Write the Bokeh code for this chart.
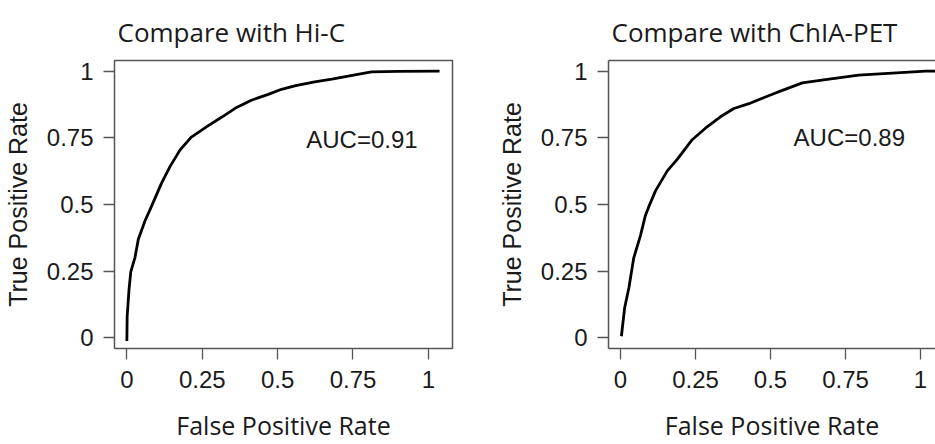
from bokeh.plotting import figure
from bokeh.layouts import row
from bokeh.models import Range1d, FixedTicker, LinearAxis
from bokeh.core.properties import value
from bokeh.embed import file_html
from bokeh.resources import INLINE

# ---- data ----
hic_fpr = [0.0, 0.001, 0.007, 0.013, 0.027, 0.038, 0.060, 0.082, 0.115, 0.143, 0.176,
           0.214, 0.270, 0.314, 0.364, 0.413, 0.469, 0.513, 0.560, 0.623, 0.680,
           0.734, 0.811, 0.900, 1.037]
hic_tpr = [-0.012, 0.08, 0.179, 0.247, 0.302, 0.37, 0.438, 0.494, 0.58, 0.642, 0.704,
           0.753, 0.796, 0.827, 0.864, 0.891, 0.913, 0.932, 0.946, 0.960, 0.970,
           0.981, 0.997, 0.999, 1.0]

chia_fpr = [0.003, 0.014, 0.028, 0.044, 0.067, 0.083, 0.094, 0.117, 0.156, 0.189,
            0.239, 0.283, 0.333, 0.378, 0.428, 0.483, 0.517, 0.533, 0.606, 0.683,
            0.794, 0.906, 1.017, 1.05]
chia_tpr = [0.006, 0.114, 0.188, 0.299, 0.385, 0.459, 0.491, 0.552, 0.626, 0.669,
            0.743, 0.786, 0.829, 0.86, 0.878, 0.903, 0.918, 0.925, 0.956, 0.968,
            0.985, 0.993, 1.0, 1.0]

tick_values = [0, 0.25, 0.5, 0.75, 1]
tick_labels = ["0", "0.25", "0.5", "0.75", "1"]

titles = ["Compare with Hi-C", "Compare with ChIA-PET"]
auc_labels = ["AUC=0.91", "AUC=0.89"]
auc_pos = [(0.595, 0.745), (0.577, 0.753)]

TXT = "#1a1a1a"
GRAY = "#555555"


def make_panel(title, fx, ty, auc, apos, width, xr, yr, mbl, mbr, open_right):
    p = figure(width=width, height=444, output_backend="svg", toolbar_location=None,
               x_range=Range1d(*xr), y_range=Range1d(*yr),
               min_border_left=mbl, min_border_right=mbr,
               min_border_top=59, min_border_bottom=94)
    p.title.text = title
    p.title.text_font = "Open Sans"
    p.title.text_font_size = "26px"
    p.title.text_font_style = "normal"
    p.title.text_color = TXT
    p.title.align = "left"
    p.title.offset = 3
    p.title.standoff = 22
    p.grid.visible = False
    p.background_fill_color = "white"
    p.border_fill_color = "white"

    xax = p.xaxis[0]
    yax = p.yaxis[0]
    for ax in (xax, yax):
        ax.ticker = FixedTicker(ticks=tick_values)
        ax.major_label_overrides = {v: l for v, l in zip(tick_values, tick_labels)}
        ax.minor_tick_line_color = None
        ax.major_tick_in = 0
        ax.major_tick_out = 11
        ax.major_tick_line_color = GRAY
        ax.major_tick_line_width = 1.3
        ax.major_label_text_font = "Liberation Sans"
        ax.major_label_text_font_size = "24px"
        ax.major_label_text_color = TXT
        ax.axis_label_text_font_style = "normal"
        ax.axis_label_text_color = TXT

    if open_right:
        # the reference panel is cut at the right edge: draw only left/bottom/top lines
        p.outline_line_color = None
        for ax in (xax, yax):
            ax.axis_line_color = GRAY
            ax.axis_line_width = 1.5
        top = LinearAxis(ticker=FixedTicker(ticks=[]), major_tick_out=0, major_tick_in=0,
                         minor_tick_line_color=None, major_label_text_font_size="0px",
                         axis_line_color=GRAY, axis_line_width=1.5)
        p.add_layout(top, "above")
    else:
        p.outline_line_color = GRAY
        p.outline_line_width = 1.5
        for ax in (xax, yax):
            ax.axis_line_color = None

    xax.axis_label = "False Positive Rate"
    xax.axis_label_text_font = "Open Sans"
    xax.axis_label_text_font_size = "25px"
    xax.major_label_standoff = 11
    xax.axis_label_standoff = 17

    yax.axis_label = "True Positive Rate"
    yax.axis_label_text_font = "Liberation Sans"
    yax.axis_label_text_font_size = "25px"
    yax.major_label_standoff = 10
    yax.major_label_orientation = "horizontal"
    yax.axis_label_standoff = 12

    p.line(fx, ty, line_color="black", line_width=2.8)
    p.text(x=[apos[0]], y=[apos[1]], text=[auc], text_font=value("Liberation Sans"),
           text_font_size="24px", text_color=TXT, text_align="left",
           text_baseline="middle")
    return p


p1 = make_panel(titles[0], hic_fpr, hic_tpr, auc_labels[0], auc_pos[0], 493,
                (-0.041, 1.08), (-0.04, 1.04), 114, 41, False)
p2 = make_panel(titles[1], chia_fpr, chia_tpr, auc_labels[1], auc_pos[1], 442,
                (-0.04, 1.05), (-0.04, 1.04), 115, 0, True)

layout = row(p1, p2)
open("out.html", "w").write(file_html(layout, INLINE))
